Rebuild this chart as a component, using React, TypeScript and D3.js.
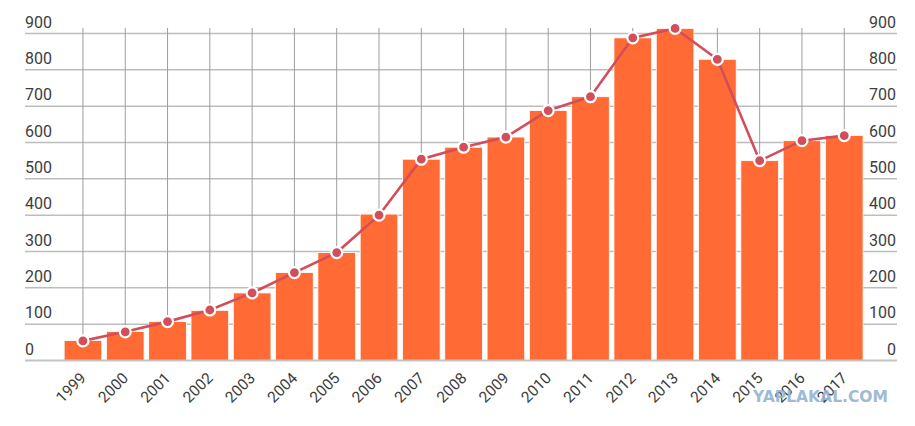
import React from "react";
import * as d3 from "d3";

const years = ["1999","2000","2001","2002","2003","2004","2005","2006","2007","2008","2009","2010","2011","2012","2013","2014","2015","2016","2017"];
const barValues = [55, 80, 107, 138, 186, 242, 297, 403, 554, 587, 615, 688, 726, 888, 914, 829, 550, 605, 619];
const lineValues = [54, 79, 107, 139, 186, 242, 297, 400, 554, 587, 615, 688, 726, 888, 914, 829, 550, 605, 619];
const yTicks = [0, 100, 200, 300, 400, 500, 600, 700, 800, 900];

const W = 915;
const H = 426;

export default function App() {
  const x = d3.scaleBand<string>().domain(years).range([61.8, 865.4]).paddingInner(0.11).paddingOuter(0.055);
  const y = d3.scaleLinear().domain([0, 900]).range([360.5, 33.5]);
  const cx = (yr: string) => (x(yr) as number) + x.bandwidth() / 2;
  const line = d3.line<number>().x((_, i) => cx(years[i])).y((d) => y(d));

  return (
    <svg width={W} height={H} style={{ position: "absolute", left: 0, top: 0, background: "#fff" }} fontFamily="Roboto, 'Noto Sans', sans-serif">
      {yTicks.filter((t) => t > 0).map((t) => (
        <line key={"h" + t} x1={25} x2={897} y1={y(t)} y2={y(t)} stroke="#bdbdbd" strokeWidth={1.5} />
      ))}
      {years.map((yr) => (
        <line key={"v" + yr} x1={cx(yr)} x2={cx(yr)} y1={28} y2={y(0)} stroke="#9e9e9e" strokeWidth={1} />
      ))}
      {years.map((yr, i) => (
        <rect key={"b" + yr} x={x(yr)} y={y(barValues[i])} width={x.bandwidth()} height={y(0) - y(barValues[i])} fill="#ff6a35" stroke="#ffffff" strokeWidth={0.8} />
      ))}
      <line x1={25} x2={897} y1={y(0)} y2={y(0)} stroke="#c4c4c4" strokeWidth={2} />
      {yTicks.map((t) => (
        <text key={"yl" + t} x={25} y={y(t) - 6} fontSize={16} fill="#3d3d3d">{t}</text>
      ))}
      {yTicks.map((t) => (
        <text key={"yr" + t} x={896} y={y(t) - 6} fontSize={16} fill="#3d3d3d" textAnchor="end">{t}</text>
      ))}
      <path d={line(lineValues) || ""} fill="none" stroke="#d24f5a" strokeWidth={2.6} />
      {lineValues.map((v, i) => (
        <circle key={"c" + i} cx={cx(years[i])} cy={y(v)} r={5.5} fill="#d24f5a" stroke="#ffffff" strokeWidth={2.2} />
      ))}
      {years.map((yr) => (
        <text key={"xl" + yr} transform={`translate(${cx(yr) + 4},${379}) rotate(-45)`} textAnchor="end" fontSize={15.5} fill="#3d3d3d">{yr}</text>
      ))}
      <text x={753} y={402} fontFamily="'DejaVu Sans', sans-serif" fontWeight="bold" fontSize={15.5} fill="#94b4d2" opacity={0.9} textLength={135} lengthAdjust="spacingAndGlyphs">YAPLAKAL.COM</text>
    </svg>
  );
}
